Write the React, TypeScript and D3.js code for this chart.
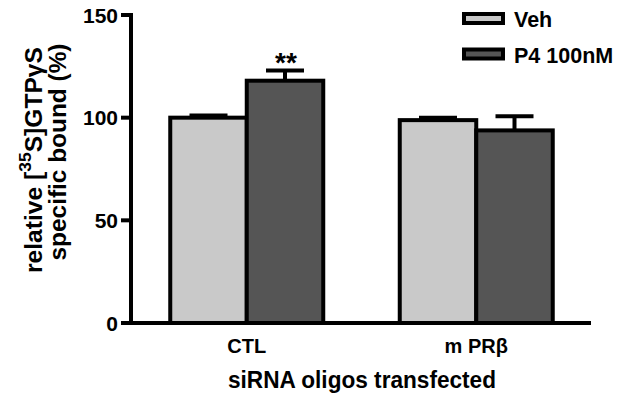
import React from "react";
import * as d3 from "d3";

const categories = ["CTL", "m PRβ"];
const seriesNames = ["Veh", "P4 100nM"];
const vehValues = [100, 98.8];
const vehErrors = [1, 1.2];
const p4Values = [118, 93.8];
const p4Errors = [5, 6.9];
const significance = ["**", ""];
const yTicks = [0, 50, 100, 150];
const seriesColors = ["#c9c9c9", "#555555"];

const W = 624;
const H = 410;
const FONT = "Arial, 'Liberation Sans', Helvetica, sans-serif";

export default function App() {
  const y = d3.scaleLinear().domain([0, 150]).range([323, 15]);
  const x = d3
    .scaleBand<string>()
    .domain(categories)
    .range([132, 591])
    .paddingInner(1 / 3)
    .paddingOuter(1 / 6);
  const inner = d3
    .scaleBand<string>()
    .domain(seriesNames)
    .range([0, x.bandwidth()]);

  const series = [
    { name: seriesNames[0], values: vehValues, errors: vehErrors, color: seriesColors[0] },
    { name: seriesNames[1], values: p4Values, errors: p4Errors, color: seriesColors[1] },
  ];

  const axisX = 131;
  const sw = 4;

  return (
    <svg
      width={W}
      height={H}
      style={{ position: "absolute", left: 0, top: 0, background: "#fff" }}
      fontFamily={FONT}
      fontWeight="bold"
    >
      <rect x={0} y={0} width={W} height={H} fill="#fff" />
      {/* bars */}
      {categories.map((c, ci) =>
        series.map((s) => {
          const bx = (x(c) as number) + (inner(s.name) as number);
          const bw = inner.bandwidth();
          const top = y(s.values[ci]);
          const errTop = y(s.values[ci] + s.errors[ci]);
          const cx = bx + bw / 2;
          return (
            <g key={c + s.name}>
              <line x1={cx} x2={cx} y1={top} y2={errTop} stroke="#000" strokeWidth={sw} />
              <line x1={cx - 19} x2={cx + 19} y1={errTop} y2={errTop} stroke="#000" strokeWidth={sw} />
              <rect
                x={bx}
                y={top}
                width={bw}
                height={y(0) - top}
                fill={s.color}
                stroke="#000"
                strokeWidth={sw}
              />
            </g>
          );
        })
      )}
      {/* significance */}
      {categories.map((c, ci) => {
        const s = series[1];
        const cx = (x(c) as number) + (inner(s.name) as number) + inner.bandwidth() / 2;
        return significance[ci] ? (
          <text key={"sig" + c} x={cx + 1} y={72} textAnchor="middle" fontSize={28} fill="#000">
            {significance[ci]}
          </text>
        ) : null;
      })}
      {/* axes */}
      <line x1={axisX} x2={axisX} y1={y(150) - 2} y2={y(0) + 2} stroke="#000" strokeWidth={sw} />
      <line x1={axisX} x2={591} y1={y(0)} y2={y(0)} stroke="#000" strokeWidth={sw} />
      {yTicks.map((t) => (
        <g key={"t" + t}>
          <line x1={axisX - 10} x2={axisX} y1={y(t)} y2={y(t)} stroke="#000" strokeWidth={sw} />
          <text x={118} y={y(t)} dy="0.36em" textAnchor="end" fontSize={21} fill="#000">
            {t}
          </text>
        </g>
      ))}
      {categories.map((c) => (
        <text
          key={"c" + c}
          x={(x(c) as number) + x.bandwidth() / 2}
          y={353}
          textAnchor="middle"
          fontSize={20}
          fill="#000"
        >
          {c}
        </text>
      ))}
      {/* axis titles */}
      <text
        x={362}
        y={388}
        textAnchor="middle"
        fontSize={23}
        fill="#000"
        textLength={268}
        lengthAdjust="spacingAndGlyphs"
      >
        siRNA oligos transfected
      </text>
      <text
        transform="translate(42,160) rotate(-90)"
        textAnchor="middle"
        fontSize={24}
        fill="#000"
        textLength={226}
        lengthAdjust="spacingAndGlyphs"
      >
        relative [<tspan fontSize={17} dy={-11}>35</tspan>
        <tspan dy={11}>S]GTPγS</tspan>
      </text>
      <text
        transform="translate(66,152) rotate(-90)"
        textAnchor="middle"
        fontSize={24}
        fill="#000"
        textLength={217}
        lengthAdjust="spacingAndGlyphs"
      >
        specific bound (%)
      </text>
      {/* legend */}
      {series.map((s, i) => (
        <g key={"lg" + s.name} transform={`translate(0, ${i * 35.5})`}>
          <rect x={464} y={14} width={39} height={9} fill={s.color} stroke="#000" strokeWidth={sw} />
          <text x={514} y={27} fontSize={21.5} fill="#000">
            {s.name}
          </text>
        </g>
      ))}
    </svg>
  );
}
